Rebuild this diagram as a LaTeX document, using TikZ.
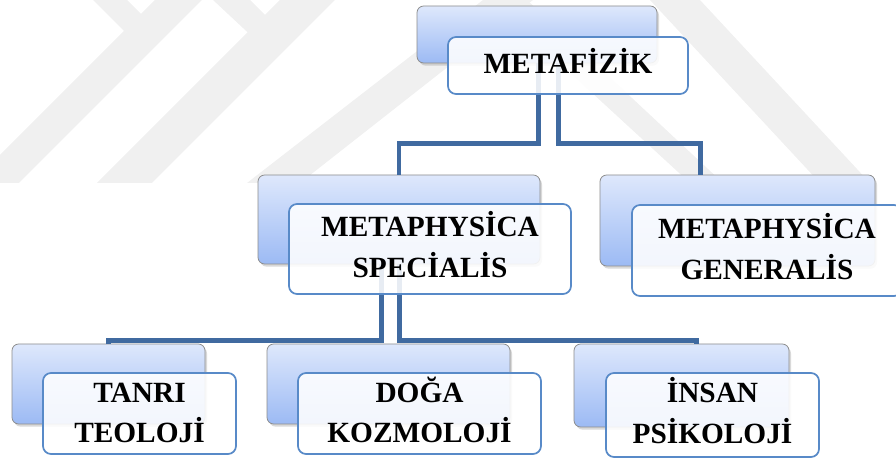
\documentclass[tikz,border=0pt]{standalone}
\usepackage{fontspec}
\setmainfont{Liberation Serif}
\usetikzlibrary{calc,shadows}
\definecolor{conncol}{RGB}{64,106,160}
\definecolor{fborder}{RGB}{88,138,200}
\definecolor{bborder}{RGB}{140,140,140}
\definecolor{btop}{RGB}{222,232,252}
\definecolor{bbot}{RGB}{156,186,244}
\definecolor{wm}{RGB}{240,240,240}
\tikzset{
 backbox/.style={draw=bborder, line width=0.6pt, rounded corners=5pt, top color=btop, bottom color=bbot,
   drop shadow={shadow xshift=1.5pt, shadow yshift=-2pt, opacity=0.3}, inner sep=0pt},
 frontbox/.style={draw=fborder, line width=1.3pt, rounded corners=6pt, fill=white, fill opacity=0.88, inner sep=0pt},
 lbl/.style={font=\bfseries\fontsize{22}{30.75}\selectfont, align=center, anchor=base, inner sep=0pt},
 connector/.style={draw=conncol, line width=3.7pt},
 wmark/.style={fill=wm, draw=none},
}
\begin{document}
\begin{tikzpicture}[x=0.75pt,y=-0.75pt]
\useasboundingbox (0,0) rectangle (896,459);
\clip (0,0) rectangle (896,459);
% watermark
\fill[wmark] (155,0) -- (202,0) -- (19,183) -- (-28,183) -- cycle;
\fill[wmark] (93,0) -- (127,0) -- (150,23) -- (133,40) -- cycle;
\fill[wmark] (280,0) -- (335,0) -- (152,183) -- (97,183) -- cycle;
\fill[wmark] (213,0) -- (250,0) -- (275,25) -- (258,42) -- cycle;
\fill[wmark] (483,0) -- (533,0) -- (300,183) -- (247,183) -- cycle;
\fill[wmark] (491,0) -- (527,0) -- (723,183) -- (690,183) -- cycle;
\fill[wmark] (650,0) -- (700,0) -- (870,183) -- (820,183) -- cycle;

% back boxes
\node[backbox, minimum width=180pt, minimum height=42.75pt] (b0) at (537,34.5) {};
\node[backbox, minimum width=211.5pt, minimum height=66.75pt] (b1) at (399,219.5) {};
\node[backbox, minimum width=206.25pt, minimum height=68.25pt] (b2) at (737.5,220.5) {};
\node[backbox, minimum width=144.75pt, minimum height=60pt] (tb1) at (108.5,384) {};
\node[backbox, minimum width=182.25pt, minimum height=60pt] (tb2) at (388.5,384) {};
\node[backbox, minimum width=161.25pt, minimum height=62.25pt] (tb3) at (681.5,385.5) {};

% connectors
\draw[connector] ($(b0.south)+(1.5,0)$) -- ++(0,80.5) -| (b1.north);
\draw[connector] ($(b0.south)+(21.5,0)$) -- ++(0,80.5) -| ($(b2.north)+(-37,0)$);
\draw[connector] ($(b1.south)+(-17.5,0)$) -- ++(0,76.5) -| (tb1.north);
\draw[connector] ($(b1.south)+(0.5,0)$) -- ++(0,76.5) -| ($(tb3.north)+(15,0)$);

% front boxes
\node[frontbox, minimum width=180pt, minimum height=42.75pt] (f0) at (568,65.5) {};
\node[frontbox, minimum width=211.5pt, minimum height=67.5pt] (f1) at (430,249) {};
\node[frontbox, minimum width=202.5pt, minimum height=68.25pt] (f2) at (767,250.5) {};
\node[frontbox, minimum width=144.75pt, minimum height=60.75pt] (tf1) at (139.5,413.5) {};
\node[frontbox, minimum width=182.25pt, minimum height=60.75pt] (tf2) at (419.5,413.5) {};
\node[frontbox, minimum width=159.75pt, minimum height=63pt] (tf3) at (712.5,415) {};

% labels (anchor=base is the baseline of the last line)
\node[lbl] (l0) at ($(f0.center)+(0,8.5)$) {METAFİZİK};
\node[lbl] (l1) at ($(f1.center)+(0,29)$) {METAPHYSİCA\\SPECİALİS};
\node[lbl] (l2) at ($(f2.center)+(0,29.5)$) {METAPHYSİCA\\GENERALİS};
\node[lbl] (l3) at ($(tf1.center)+(0,29.5)$) {TANRI\\TEOLOJİ};
\node[lbl] (l4) at ($(tf2.center)+(0,29.5)$) {DOĞA\\KOZMOLOJİ};
\node[lbl] (l5) at ($(tf3.center)+(0,29)$) {İNSAN\\PSİKOLOJİ};
\end{tikzpicture}
\end{document}
